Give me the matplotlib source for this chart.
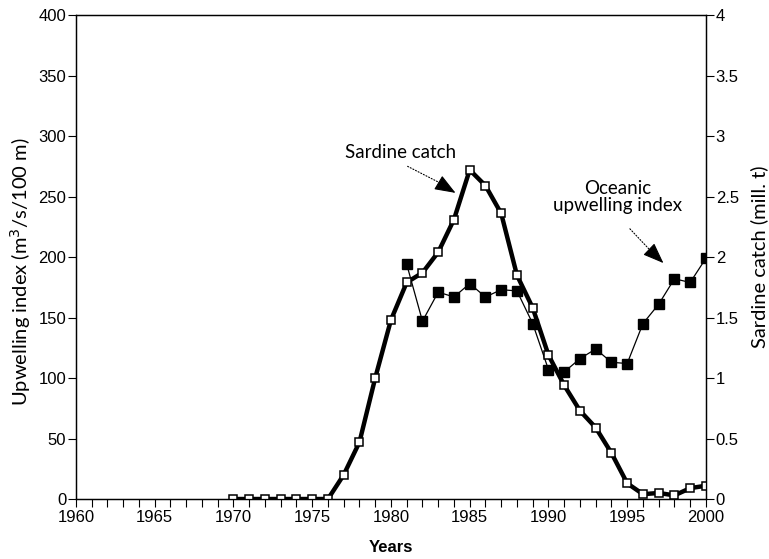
import numpy as np
import matplotlib
matplotlib.use("Agg")
import matplotlib.pyplot as plt
from matplotlib.ticker import MultipleLocator

# Sardine catch (mill. t), 1970-2000
catch_years = np.arange(1970, 2001)
sardine_catch = [0.0, 0.0, 0.0, 0.0, 0.0, 0.0, 0.0, 0.2, 0.47, 1.0, 1.48,
                 1.79, 1.87, 2.04, 2.31, 2.72, 2.59, 2.36, 1.85, 1.58, 1.19,
                 0.94, 0.73, 0.59, 0.38, 0.13, 0.04, 0.05, 0.03, 0.09, 0.11]

# Oceanic upwelling index (m3/s/100 m), 1981-2000
upw_years = np.arange(1981, 2001)
upwelling = [194, 147, 171, 167, 178, 167, 173, 172, 145, 107,
             105, 116, 124, 113, 112, 145, 161, 182, 179, 199]

left_ticks = np.arange(0, 401, 50)
right_ticks = [0, 0.5, 1, 1.5, 2, 2.5, 3, 3.5, 4]
right_labels = ["0", "0.5", "1", "1.5", "2", "2.5", "3", "3.5", "4"]
year_ticks = np.arange(1960, 2001, 5)

tick_font = "Liberation Sans"
label_font = ["Lato", "DejaVu Sans"]

fig = plt.figure(figsize=(7.69, 5.59), dpi=100)
ax = fig.add_axes([0.0988, 0.1073, 0.8192, 0.8658])
ax2 = ax.twinx()

# upwelling index: thin line, filled squares
ax.plot(upw_years, upwelling, '-', color='black', lw=0.9,
        marker='s', markersize=6.5, markerfacecolor='black', markeredgecolor='black')

# sardine catch: thick line, open squares
ax2.plot(catch_years, sardine_catch, '-', color='black', lw=3.2,
         marker='s', markersize=5.5, markerfacecolor='white', markeredgecolor='black',
         markeredgewidth=1.1)

ax.set_xlim(1960, 2000)
ax.set_ylim(0, 400)
ax2.set_ylim(0, 4)

ax.set_xticks(year_ticks)
ax.xaxis.set_minor_locator(MultipleLocator(1))
ax.set_yticks(left_ticks)
ax2.set_yticks(right_ticks)
ax2.set_yticklabels(right_labels)

ax.tick_params(axis='x', which='both', direction='out', length=6, width=0.8, pad=2)
ax.tick_params(axis='y', direction='out', length=6, width=0.8, pad=1)
ax2.tick_params(axis='y', direction='out', length=6, width=0.8, pad=1)

for lab in ax.get_xticklabels() + ax.get_yticklabels() + ax2.get_yticklabels():
    lab.set_fontfamily(tick_font)
    lab.set_fontsize(12)

for a in (ax, ax2):
    for s in a.spines.values():
        s.set_linewidth(0.9)

ax.set_ylabel("Upwelling index (m$^3$/s/100 m)", family=label_font, fontsize=14.5)
ax.yaxis.set_label_coords(-0.068, 0.47)
ax2.set_ylabel("Sardine catch (mill. t)", family=label_font, fontsize=14.5, labelpad=8)
ax.set_xlabel("Years", family=["Liberation Sans Narrow", "Liberation Sans"],
              fontweight='bold', fontsize=12, labelpad=11)

# labels with dotted leaders
ax.text(1980.6, 286, "Sardine catch", family=label_font, fontsize=13.5,
        ha='center', va='center')
ax.annotate("", xy=(1983.3, 260), xytext=(1980.9, 276),
            arrowprops=dict(arrowstyle='-', ls=':', lw=0.8, color='black'))
ax.annotate("", xy=(1984.1, 253), xytext=(1983.2, 260),
            arrowprops=dict(arrowstyle='-|>,head_length=1.3,head_width=0.5',
                            lw=0.8, color='black', shrinkA=0, shrinkB=0))

ax.text(1994.4, 250, "Oceanic\nupwelling index", family=label_font, fontsize=13.5,
        ha='center', va='center', linespacing=1.0)
ax.annotate("", xy=(1996.5, 205), xytext=(1995.05, 225),
            arrowprops=dict(arrowstyle='-', ls=':', lw=0.8, color='black'))
ax.annotate("", xy=(1997.3, 195), xytext=(1996.5, 205),
            arrowprops=dict(arrowstyle='-|>,head_length=1.3,head_width=0.5',
                            lw=0.8, color='black', shrinkA=0, shrinkB=0))

fig.savefig("out.png", dpi=100)
